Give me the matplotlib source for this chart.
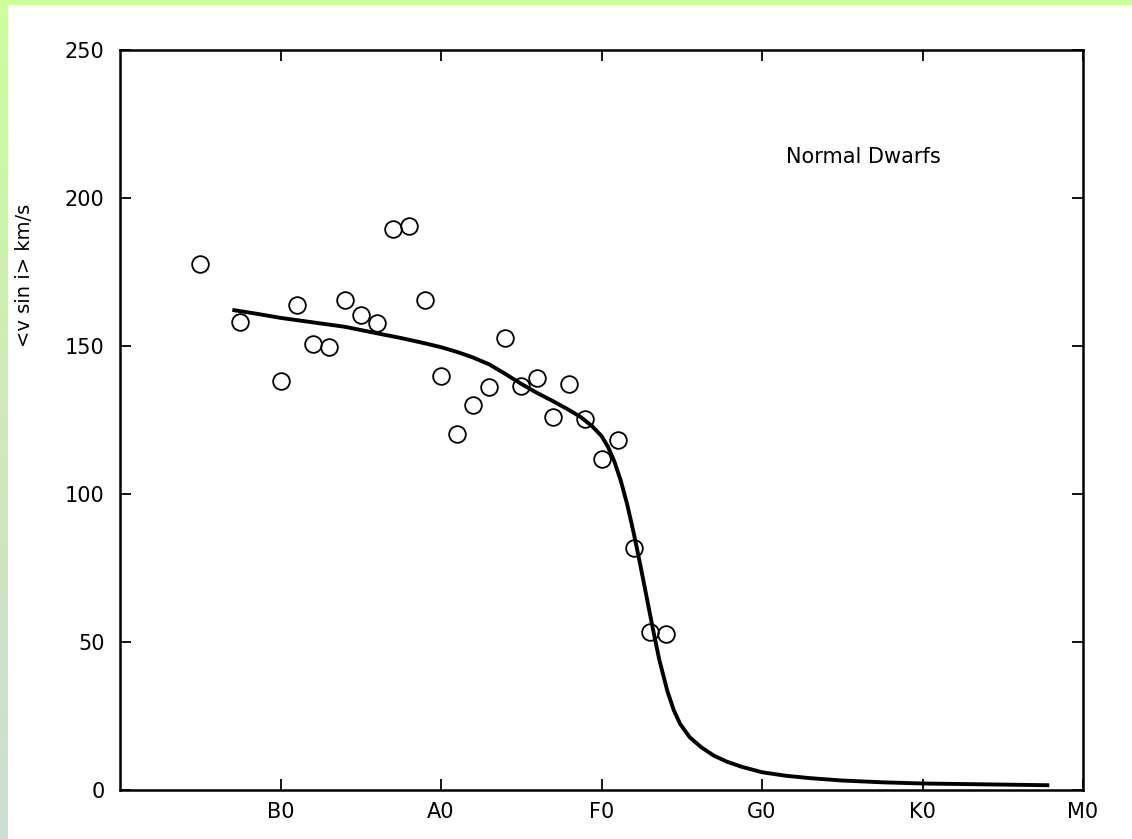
import matplotlib
matplotlib.use("Agg")
import matplotlib.pyplot as plt
import numpy as np
from matplotlib.colors import LinearSegmentedColormap

# spectral classes on the x axis (0 = left edge, 1 = B0 ... 6 = M0)
class_pos = [1, 2, 3, 4, 5, 6]
class_labels = ["B0", "A0", "F0", "G0", "K0", "M0"]
y_ticks = [0, 50, 100, 150, 200, 250]

# observed mean v sin i (open circles)
obs_x = [0.50, 0.75, 1.00, 1.10, 1.20, 1.30, 1.40, 1.50, 1.60, 1.70, 1.80, 1.90,
         2.00, 2.10, 2.20, 2.30, 2.40, 2.50, 2.60, 2.70, 2.80, 2.90, 3.00, 3.10,
         3.20, 3.30, 3.40]
obs_y = [177.7, 158.1, 138.2, 163.9, 150.7, 149.7, 165.5, 160.5, 157.8, 189.5, 190.5, 165.5,
         139.9, 120.3, 130.1, 136.1, 152.7, 136.5, 139.2, 126.0, 137.2, 125.3, 111.8, 118.2,
         81.8, 53.4, 52.7]

# fitted curve
fit_x = [0.70, 0.85, 1.00, 1.20, 1.40, 1.60, 1.75, 1.90, 2.00, 2.10, 2.20, 2.30,
         2.40, 2.50, 2.60, 2.70, 2.80, 2.87, 2.94, 3.00, 3.04, 3.08, 3.12, 3.16,
         3.20, 3.24, 3.28, 3.32, 3.36, 3.41, 3.45, 3.49, 3.55, 3.62, 3.70, 3.78,
         3.87, 4.00, 4.15, 4.30, 4.50, 4.75, 5.00, 5.40, 5.79]
fit_y = [162.2, 160.9, 159.5, 158.0, 156.5, 154.3, 152.7, 150.9, 149.6, 148.0, 146.1, 143.8,
         140.6, 137.2, 134.1, 131.3, 128.3, 126.0, 123.0, 119.6, 116.0, 111.0, 104.5, 96.5,
         87.0, 76.5, 65.5, 54.5, 44.0, 33.5, 27.0, 22.3, 17.8, 14.5, 11.6, 9.6,
         7.9, 6.0, 4.8, 4.0, 3.2, 2.6, 2.2, 1.9, 1.6]

fig = plt.figure(figsize=(11.32, 8.39), dpi=100)
fig.patch.set_facecolor("white")

# green frame: top strip and left gradient strip
top = fig.add_axes([0, 1 - 5 / 839, 1, 5 / 839])
top.set_facecolor("#ccff99")
top.set_xticks([])
top.set_yticks([])
for s in top.spines.values():
    s.set_visible(False)

left = fig.add_axes([0, 0, 8 / 1132, 1])
cmap = LinearSegmentedColormap.from_list("frame", ["#ccff99", "#cdebb9", "#c8e1d2"])
left.imshow(np.linspace(0, 1, 256).reshape(-1, 1), aspect="auto", cmap=cmap)
left.axis("off")

ax = fig.add_axes([120 / 1132, 1 - 790 / 839, 963 / 1132, 740 / 839])
ax.plot(fit_x, fit_y, color="black", lw=2.8, solid_capstyle="butt",
        solid_joinstyle="round")
ax.plot(obs_x, obs_y, "o", mfc="none", mec="black", ms=12, mew=1.3)

ax.set_xlim(0, 6)
ax.set_ylim(0, 250)
ax.set_xticks(class_pos)
ax.set_xticklabels(class_labels)
ax.set_yticks(y_ticks)

ax.tick_params(direction="in", top=True, right=True, length=8, width=1.3,
               labelsize=15, color="black")
ax.tick_params(axis="y", pad=11)
ax.tick_params(axis="x", pad=9)
for s in ax.spines.values():
    s.set_linewidth(1.8)

ax.text(4.63, 214, "Normal Dwarfs", fontsize=15, ha="center", va="center")
fig.text(25 / 1132, 1 - 275 / 839, "<v sin i> km/s", rotation=90, fontsize=14,
         ha="center", va="center")

fig.savefig("out.png", dpi=100)
